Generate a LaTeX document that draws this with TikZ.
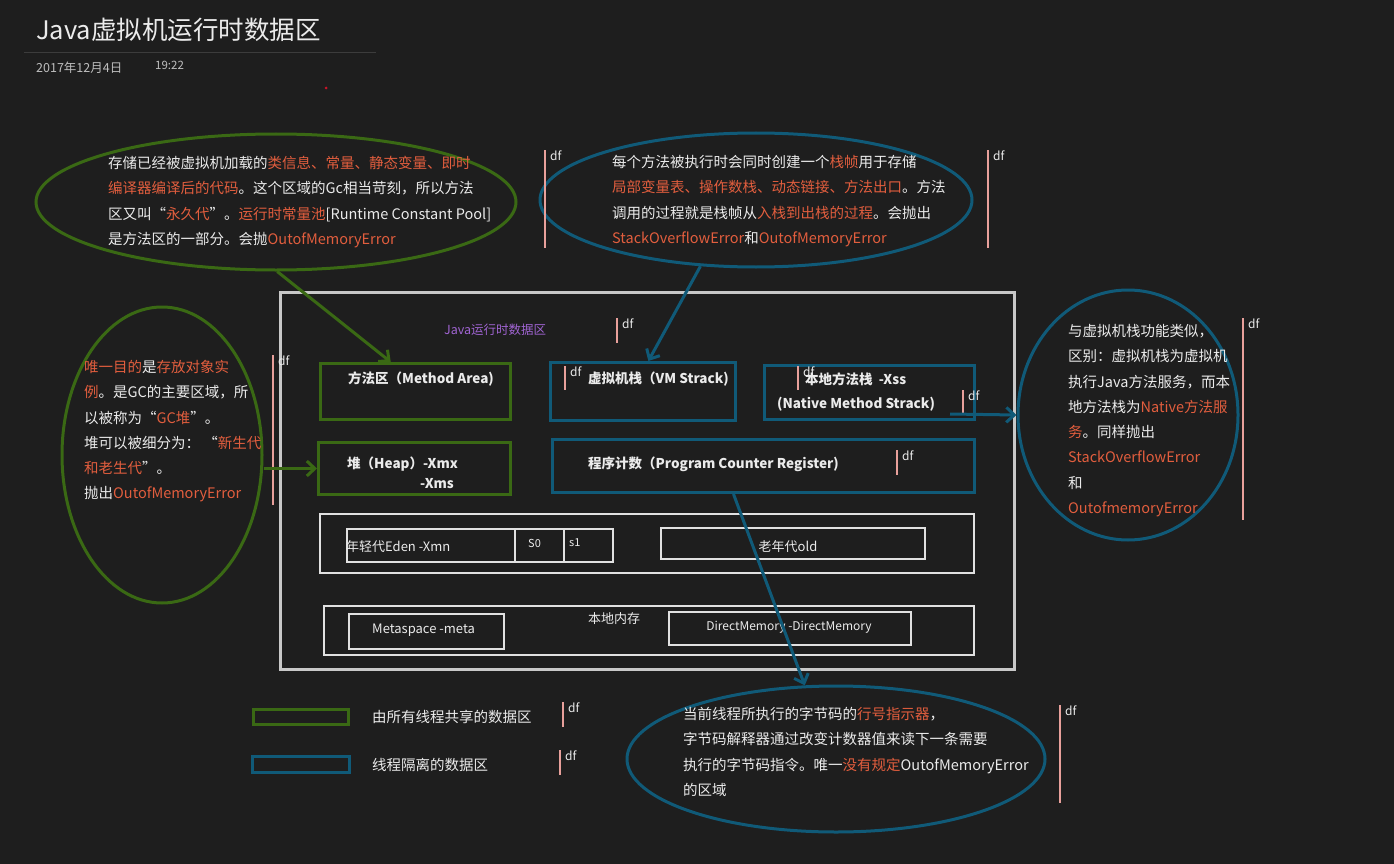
\documentclass[tikz,border=0pt]{standalone}
\usepackage{fontspec}
\setmainfont{Noto Sans CJK SC}
\usetikzlibrary{shapes.geometric,arrows.meta}

\definecolor{canvas}{RGB}{30,30,30}
\definecolor{ink}{RGB}{235,235,235}
\definecolor{dim}{RGB}{190,190,190}
\definecolor{hot}{RGB}{226,94,62}
\definecolor{sharedgreen}{RGB}{58,105,20}
\definecolor{privateblue}{RGB}{16,90,120}
\definecolor{dfpink}{RGB}{232,160,155}
\definecolor{lilac}{RGB}{160,100,210}
\definecolor{frame}{RGB}{200,200,200}
\definecolor{paper}{RGB}{225,225,225}
\definecolor{rulegray}{RGB}{60,60,60}
\definecolor{dotred}{RGB}{200,20,40}

\tikzset{
  shared/.style={draw=sharedgreen, line width=3pt},
  private/.style={draw=privateblue, line width=3pt},
  plainbox/.style={draw=paper, line width=1.5pt},
  box/.style={anchor=north west, inner sep=0pt},
  body/.style={anchor=north west, inner sep=0pt, align=left, text=ink,
    font=\fontsize{14.5}{25.3}\selectfont},
  boxlabel/.style={anchor=west, inner sep=0pt, text=ink,
    font=\bfseries\fontsize{13.5}{16}\selectfont},
  smalllabel/.style={anchor=west, inner sep=0pt, text=ink,
    font=\fontsize{13}{16}\selectfont},
  stamp/.style={anchor=west, inner sep=0pt, text=dim,
    font=\fontsize{12.5}{14}\selectfont},
  dfbar/.style={draw=dfpink, line width=2.5pt},
  dftext/.style={anchor=north west, inner sep=0pt, text=ink,
    font=\fontsize{12}{14}\selectfont},
  sharedarrow/.style={draw=sharedgreen, line width=3pt,
    -{Straight Barb[length=8pt,width=15pt]}},
  privatearrow/.style={draw=privateblue, line width=3pt,
    -{Straight Barb[length=8pt,width=15pt]}}
}

\newcommand{\hl}[1]{\textcolor{hot}{#1}}
% side note marker: name, x, top, bottom
\newcommand{\dfnote}[4]{%
  \draw[dfbar] (#2,#3) -- (#2,#4);
  \node[dftext] (#1) at (#2+5,#3+1) {df};}

\begin{document}
\begin{tikzpicture}[x=1pt,y=-1pt]
  \fill[canvas] (0,0) rectangle (1394,864);
  \useasboundingbox (0,0) rectangle (1394,864);

  % page header
  \node[anchor=west, inner sep=0pt, text=ink, font=\fontsize{25.5}{30}\selectfont] (title) at (36,30) {Java虚拟机运行时数据区};
  \draw[rulegray, line width=1pt] (24,53) -- (376,53);
  \node[stamp] (date) at (36,68) {2017年12月4日};
  \node[stamp, font=\fontsize{11.5}{13}\selectfont] (time) at (155,65) {19:22};
  \fill[dotred] (326,88) circle (1.5);

  % notes
  \node[ellipse, shared, minimum width=480, minimum height=136] (eMethod) at (276,202) {};
  \node[ellipse, private, minimum width=432, minimum height=134] (eStack) at (756,200) {};
  \node[ellipse, shared, minimum width=200, minimum height=296] (eHeap) at (162,455) {};
  \node[ellipse, private, minimum width=220, minimum height=250] (eNative) at (1128,415) {};
  \node[ellipse, private, minimum width=418, minimum height=146] (eCounter) at (836,759) {};

  \node[body] (tMethod) at (108,156) {存储已经被虚拟机加载的\hl{类信息、常量、静态变量、即时}\\
    \hl{编译器编译后的代码}。这个区域的Gc相当苛刻，所以方法\\
    区又叫“\hl{永久代}”。\hl{运行时常量池}[Runtime Constant Pool]\\
    是方法区的一部分。会抛\hl{OutofMemoryError}};
  \node[body] (tStack) at (612,155) {每个方法被执行时会同时创建一个\hl{栈帧}用于存储\\
    \hl{局部变量表、操作数栈、动态链接、方法出口}。方法\\
    调用的过程就是栈帧从\hl{入栈到出栈的过程}。会抛出\\
    \hl{StackOverflowError}和\hl{OutofMemoryError}};
  \node[body] (tHeap) at (84,360) {\hl{唯一目的}是\hl{存放对象实}\\
    \hl{例}。是GC的主要区域，所\\
    以被称为“\hl{GC堆}”。\\
    堆可以被细分为：\ “\hl{新生代}\\
    \hl{和老生代}”。\\
    抛出\hl{OutofMemoryError}};
  \node[body] (tNative) at (1068,324) {与虚拟机栈功能类似，\\
    区别：虚拟机栈为虚拟机\\
    执行Java方法服务，而本\\
    地方法栈为\hl{Native方法服}\\
    \hl{务}。同样抛出\\
    \hl{StackOverflowError}\\
    和\\
    \hl{OutofmemoryError}};
  \node[body] (tCounter) at (683,707) {当前线程所执行的字节码的\hl{行号指示器}，\\
    字节码解释器通过改变计数器值来读下一条需要\\
    执行的字节码指令。唯一\hl{没有规定}OutofMemoryError\\
    的区域};

  % runtime data area
  \node[box, draw=frame, line width=3pt, minimum width=734, minimum height=377] (runtime) at (279,291) {};
  \node[anchor=west, inner sep=0pt, text=lilac, font=\fontsize{12.5}{15}\selectfont] (areaName) at (444,330) {Java运行时数据区};

  \node[box, shared, minimum width=190, minimum height=56] (method) at (319,362) {};
  \node[box, private, minimum width=185, minimum height=58] (vm) at (549,361) {};
  \node[box, private, minimum width=210, minimum height=54] (native) at (763,364) {};
  \node[box, shared, minimum width=192, minimum height=52] (heap) at (317,441) {};
  \node[box, private, minimum width=422, minimum height=53] (pc) at (551,438) {};

  \node[boxlabel] (lMethod) at (348,379) {方法区（Method Area)};
  \node[boxlabel] (lVm) at (588,379) {虚拟机栈（VM Strack)};
  \node[boxlabel] (lNative) at (805,379) {本地方法栈\ \ -Xss};
  \node[boxlabel] (lNative2) at (777,404) {(Native Method Strack)};
  \node[boxlabel] (lHeap) at (347,464) {堆（Heap）-Xmx};
  \node[boxlabel] (lHeap2) at (420,484) {-Xms};
  \node[boxlabel] (lPc) at (588,464) {程序计数（Program Counter Register)};

  \node[box, plainbox, minimum width=654, minimum height=59] (young) at (319,513) {};
  \node[box, plainbox, minimum width=266, minimum height=33] (eden) at (346,528) {};
  \draw[paper, line width=1.2pt] (515,528) -- (515,561);
  \draw[paper, line width=1.2pt] (564,528) -- (564,561);
  \node[smalllabel] (lEden) at (346,547) {年轻代Eden\ -Xmn};
  \node[smalllabel, font=\fontsize{11}{13}\selectfont] (lS0) at (528,543) {S0};
  \node[smalllabel, font=\fontsize{11}{13}\selectfont] (lS1) at (569,543) {s1};
  \node[box, plainbox, minimum width=264, minimum height=31] (old) at (660,527) {};
  \node[smalllabel, anchor=center] (lOld) at (788,547) {老年代old};

  \node[box, plainbox, minimum width=650, minimum height=49] (localMem) at (323,605) {};
  \node[box, plainbox, minimum width=155, minimum height=35] (meta) at (348,613) {};
  \node[box, plainbox, minimum width=242, minimum height=33] (direct) at (668,611) {};
  \node[smalllabel] (lMeta) at (372,630) {Metaspace\ -meta};
  \node[smalllabel] (lLocal) at (588,619) {本地内存};
  \node[smalllabel, anchor=center, font=\fontsize{12}{14}\selectfont] (lDirect) at (789,627) {DirectMemory\ -DirectMemory};

  % legend
  \node[box, shared, minimum width=95, minimum height=15] (keyShared) at (252,708) {};
  \node[box, private, minimum width=97, minimum height=16] (keyPrivate) at (251,755) {};
  \node[smalllabel, font=\fontsize{14.5}{17}\selectfont] (lShared) at (372,717) {由所有线程共享的数据区};
  \node[smalllabel, font=\fontsize{14.5}{17}\selectfont] (lPrivate) at (372,765) {线程隔离的数据区};

  % df markers
  \dfnote{dfA}{545}{150}{248}
  \dfnote{dfB}{988}{150}{248}
  \dfnote{dfC}{273}{355}{505}
  \dfnote{dfD}{617}{318}{343}
  \dfnote{dfE}{565}{366}{390}
  \dfnote{dfF}{798}{366}{390}
  \dfnote{dfG}{963}{390}{413}
  \dfnote{dfH}{897}{450}{475}
  \dfnote{dfI}{1243}{318}{520}
  \dfnote{dfJ}{1060}{705}{803}
  \dfnote{dfK}{563}{702}{727}
  \dfnote{dfL}{560}{750}{775}

  % connectors
  \coordinate (nativeOut) at (950,414);
  \draw[sharedarrow] (eMethod.-89) -- (method.130);
  \draw[privatearrow] (eStack.-130) -- (vm.80);
  \draw[sharedarrow] (eHeap.east |- heap.west) -- (heap.west);
  \draw[privatearrow] (nativeOut) -- (eNative.west);
  \draw[privatearrow] (pc.-137) -- (eCounter.113);
\end{tikzpicture}
\end{document}
